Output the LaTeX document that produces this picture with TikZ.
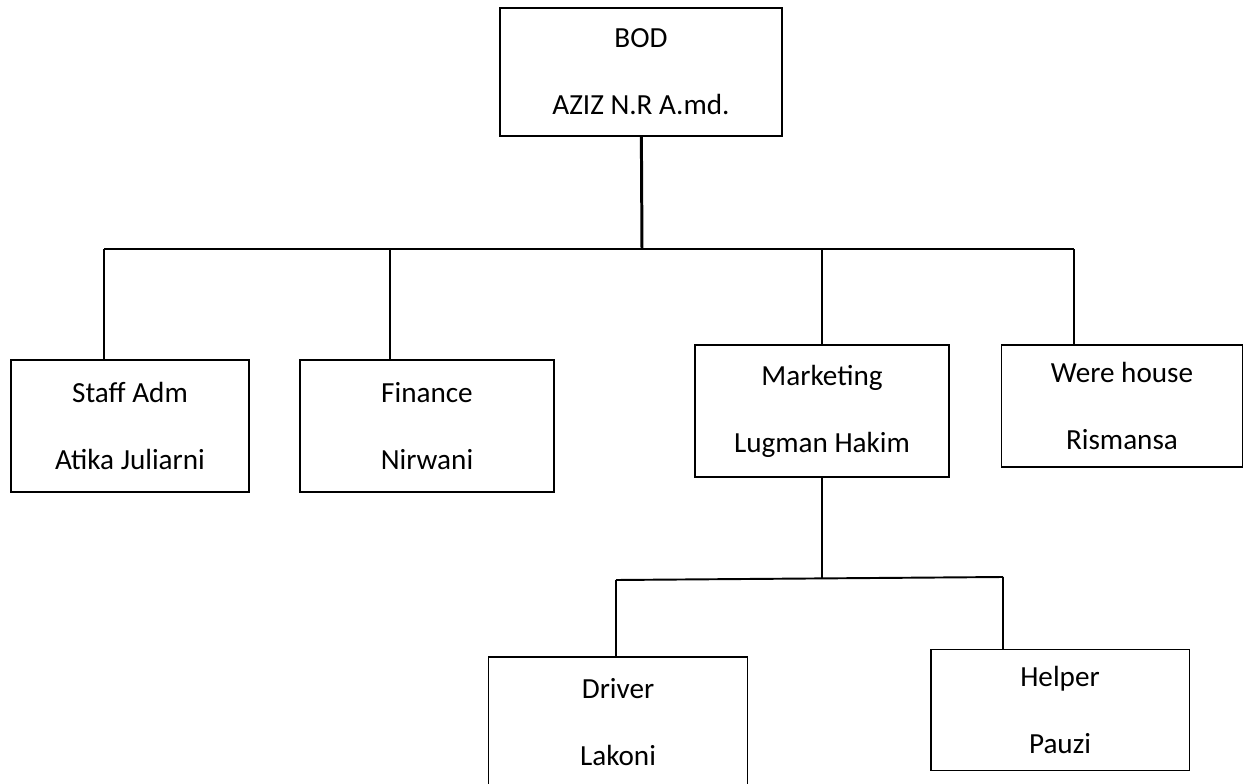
\documentclass[tikz,border=0pt]{standalone}
\usepackage{fontspec}
\setmainfont{Carlito}
\usetikzlibrary{positioning}

\begin{document}
\begin{tikzpicture}[x=0.02cm,y=-0.02cm,
  unit/.style={draw, line width=1.1pt, align=center, inner sep=0pt,
    font=\fontsize{16.6}{19}\selectfont},
  link/.style={line width=1.1pt}]
\useasboundingbox (0,0) rectangle (1245,784);
% top
\node[unit, minimum width=5.64cm, minimum height=2.56cm] (bod) at (641,72) {BOD\\[19pt]AZIZ N.R A.md.};
% second row
\node[unit, minimum width=4.76cm, minimum height=2.64cm] (staff) at (130,426) {Staff Adm\\[19pt]Atika Juliarni};
\node[unit, minimum width=5.08cm, minimum height=2.64cm] (fin) at (427,426) {Finance\\[19pt]Nirwani};
\node[unit, minimum width=5.08cm, minimum height=2.64cm] (mkt) at (822,411) {Marketing\\[19pt]Lugman Hakim};
\node[unit, minimum width=4.82cm, minimum height=2.44cm] (ware) at (1122,406) {Were house\\[19pt]Rismansa};
% third row
\node[unit, minimum width=5.18cm, minimum height=2.6cm] (drv) at (618,722) {Driver\\[19pt]Lakoni};
\node[unit, minimum width=5.18cm, minimum height=2.42cm] (hlp) at (1060,710) {Helper\\[19pt]Pauzi};
% bus lines
\coordinate (bus) at (642,249);
\coordinate (jstaff) at (104,249);
\coordinate (jfin) at (390,249);
\coordinate (jmkt) at (822,249);
\coordinate (jware) at (1074,249);
\draw[line width=1.7pt] (bod) -- (bus);
\draw[link] (jstaff) -- (jware);
\draw[link] (jstaff) -- (jstaff |- staff.north);
\draw[link] (jfin) -- (jfin |- fin.north);
\draw[link] (jmkt) -- (mkt.north);
\draw[link] (jware) -- (jware |- ware.north);
% marketing staff
\coordinate (jdrv) at (616,580);
\coordinate (jhlp) at (1003,577);
\draw[link] (mkt.south) -- (mkt.south |- 0,578);
\draw[link] (jdrv) -- (jhlp);
\draw[link] (jdrv) -- (jdrv |- drv.north);
\draw[line width=1.5pt] (jhlp) -- (jhlp |- hlp.north);
\end{tikzpicture}
\end{document}
